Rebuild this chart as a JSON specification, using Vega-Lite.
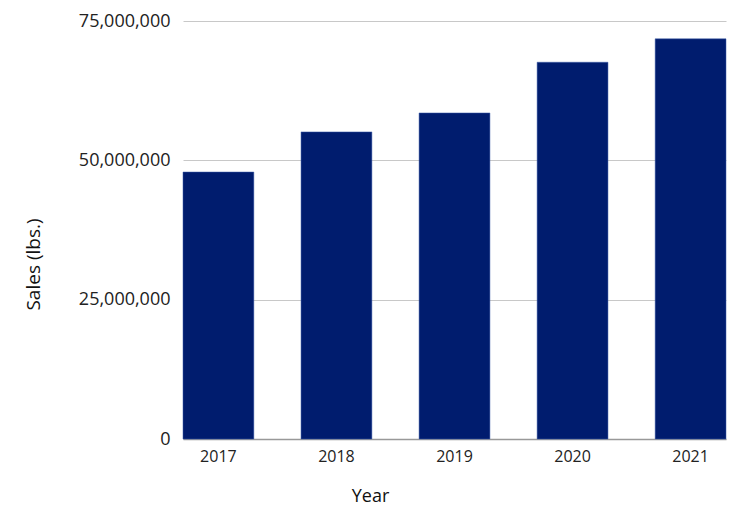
{
  "$schema": "https://vega.github.io/schema/vega-lite/v6.json",
  "autosize": {"type": "none"},
  "width": 543,
  "height": 418,
  "padding": {"left": 183, "top": 21, "right": 14, "bottom": 91},
  "background": "white",
  "data": {
    "values": [
      {"Year": "2017", "Sales": 47900000},
      {"Year": "2018", "Sales": 55100000},
      {"Year": "2019", "Sales": 58500000},
      {"Year": "2020", "Sales": 67600000},
      {"Year": "2021", "Sales": 71800000}
    ]
  },
  "config": {
    "view": {"stroke": null},
    "font": "Open Sans"
  },
  "mark": {"type": "bar", "color": "#001c6e", "stroke": "#3a5aa8", "strokeWidth": 0.5},
  "encoding": {
    "x": {
      "field": "Year",
      "type": "ordinal",
      "scale": {"paddingInner": 0.4, "paddingOuter": 0},
      "axis": {
        "title": "Year",
        "labelAngle": 0,
        "labelFont": "Open Sans",
        "labelFontSize": 16,
        "labelColor": "#222",
        "labelPadding": 9,
        "ticks": false,
        "domainColor": "#999",
        "domainWidth": 1.5,
        "titleFont": "Open Sans",
        "titleFontSize": 18,
        "titleFontWeight": "normal",
        "titleColor": "#111",
        "titleX": 187,
        "titleY": 57,
        "titleAnchor": null,
        "titleBaseline": "middle",
        "titleAlign": "center"
      }
    },
    "y": {
      "field": "Sales",
      "type": "quantitative",
      "scale": {"domain": [0, 75000000], "nice": false},
      "axis": {
        "title": "Sales (lbs.)",
        "values": [0, 25000000, 50000000, 75000000],
        "format": ",d",
        "labelFont": "Open Sans",
        "labelFontSize": 18,
        "labelColor": "#222",
        "labelPadding": 13,
        "ticks": false,
        "domain": false,
        "grid": true,
        "gridColor": "#c8c8c8",
        "gridWidth": 1,
        "titleFont": "Open Sans",
        "titleFontSize": 19,
        "titleFontWeight": "normal",
        "titleColor": "#111",
        "titleAngle": -90,
        "titleX": -150,
        "titleY": 243,
        "titleAlign": "center",
        "titleBaseline": "middle"
      }
    }
  }
}
